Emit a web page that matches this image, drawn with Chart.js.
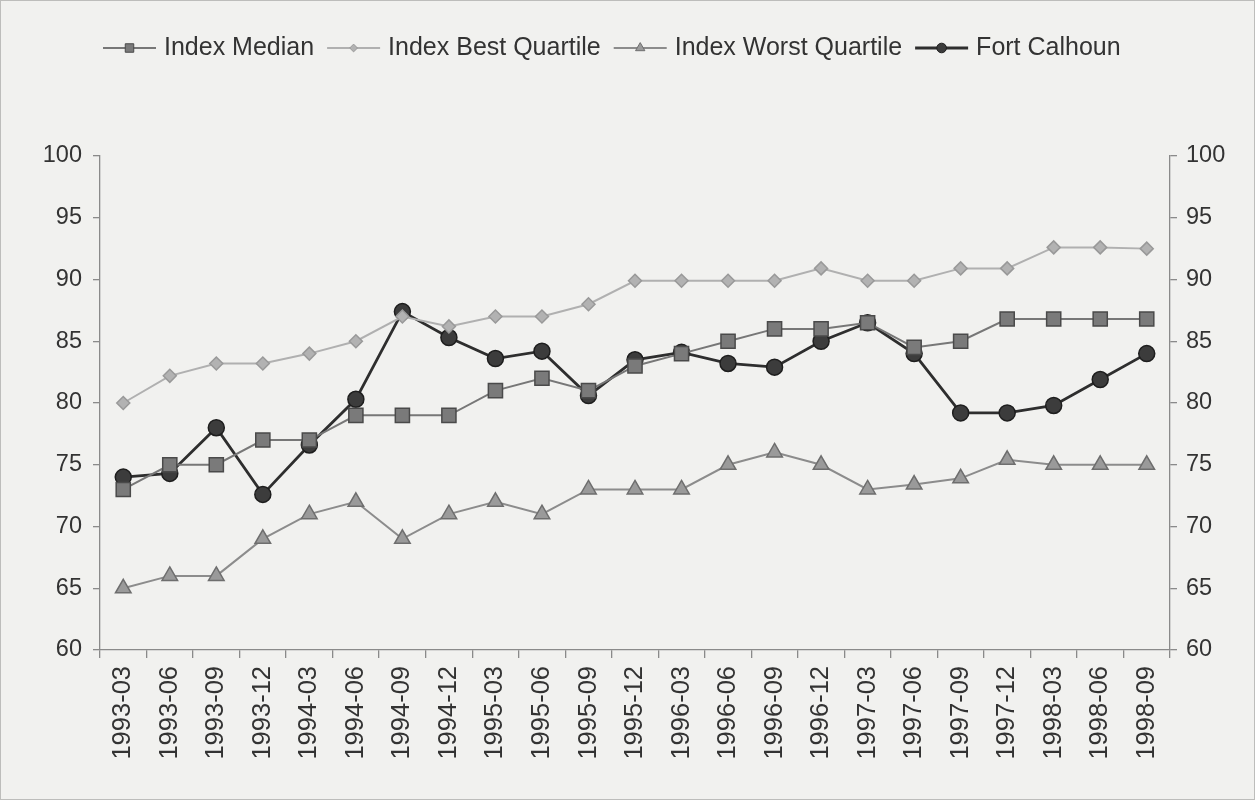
<!DOCTYPE html>
<html>
<head>
<meta charset="utf-8">
<script src="https://cdn.jsdelivr.net/npm/chart.js@4/dist/chart.umd.min.js"></script>
<style>
  html, body { margin: 0; padding: 0; background: #f1f1ef; }
  #wrap { position: relative; width: 1255px; height: 800px; box-sizing: border-box; border: 1px solid #bdbdbb; }
  canvas { display: block; }
</style>
</head>
<body>
<div id="wrap"><canvas id="c" width="1253" height="798"></canvas></div>
<script>
// Quarter labels
const quarters = [
  '1993-03','1993-06','1993-09','1993-12','1994-03','1994-06','1994-09','1994-12',
  '1995-03','1995-06','1995-09','1995-12','1996-03','1996-06','1996-09','1996-12',
  '1997-03','1997-06','1997-09','1997-12','1998-03','1998-06','1998-09'
];

// Performance index series
const indexMedian = [73, 75, 75, 77, 77, 79, 79, 79, 81, 82, 81, 83, 84, 85, 86, 86, 86.5, 84.5, 85, 86.8, 86.8, 86.8, 86.8];
const indexBestQuartile = [80, 82.2, 83.2, 83.2, 84, 85, 87, 86.2, 87, 87, 88, 89.9, 89.9, 89.9, 89.9, 90.9, 89.9, 89.9, 90.9, 90.9, 92.6, 92.6, 92.5];
const indexWorstQuartile = [65, 66, 66, 69, 71, 72, 69, 71, 72, 71, 73, 73, 73, 75, 76, 75, 73, 73.4, 73.9, 75.4, 75, 75, 75];
const fortCalhoun = [74, 74.3, 78, 72.6, 76.6, 80.3, 87.4, 85.3, 83.6, 84.2, 80.6, 83.5, 84.1, 83.2, 82.9, 85, 86.5, 84, 79.2, 79.2, 79.8, 81.9, 84];

// Value axis ticks
const yMin = 60, yMax = 100, yStep = 5;

const FONT = "'Liberation Sans', Arial, sans-serif";
const TEXT = '#333333';

// Legend drawn as "line through marker" entries
const lineMarkerLegend = {
  id: 'lineMarkerLegend',
  afterDraw(chart) {
    const ctx = chart.ctx;
    ctx.save();
    ctx.font = '25px ' + FONT;
    ctx.textBaseline = 'middle';
    const y = 47, lineLen = 53, gapText = 8, gapItem = 13;
    let x = 102;
    chart.data.datasets.forEach(ds => {
      ctx.strokeStyle = ds.borderColor;
      ctx.lineWidth = ds.borderWidth;
      ctx.beginPath();
      ctx.moveTo(x, y);
      ctx.lineTo(x + lineLen, y);
      ctx.stroke();
      drawMarker(ctx, ds.pointStyle, x + lineLen / 2, y, ds.pointRadius * 0.6,
                 ds.pointBackgroundColor, ds.pointBorderColor, 1);
      ctx.fillStyle = TEXT;
      ctx.fillText(ds.label, x + lineLen + gapText, y);
      x += lineLen + gapText + ctx.measureText(ds.label).width + gapItem;
    });
    ctx.restore();
  }
};

function drawMarker(ctx, style, x, y, r, fill, stroke, bw) {
  ctx.save();
  ctx.beginPath();
  if (style === 'rect') {
    const s = r * Math.SQRT1_2;
    ctx.rect(x - s, y - s, 2 * s, 2 * s);
  } else if (style === 'rectRot') {
    ctx.moveTo(x, y - r); ctx.lineTo(x + r, y); ctx.lineTo(x, y + r); ctx.lineTo(x - r, y); ctx.closePath();
  } else if (style === 'triangle') {
    for (let i = 0; i < 3; i++) {
      const a = -Math.PI / 2 + i * 2 * Math.PI / 3;
      const px = x + Math.cos(a) * r, py = y + Math.sin(a) * r;
      i ? ctx.lineTo(px, py) : ctx.moveTo(px, py);
    }
    ctx.closePath();
  } else {
    ctx.arc(x, y, r, 0, Math.PI * 2);
  }
  ctx.fillStyle = fill; ctx.fill();
  ctx.lineWidth = bw; ctx.strokeStyle = stroke; ctx.stroke();
  ctx.restore();
}

new Chart(document.getElementById('c'), {
  type: 'line',
  data: {
    labels: quarters,
    datasets: [
      {
        label: 'Index Median', data: indexMedian,
        borderColor: '#777777', borderWidth: 2,
        pointStyle: 'rect', pointRadius: 10,
        pointBackgroundColor: '#7a7a7a', pointBorderColor: '#4a4a4a', pointBorderWidth: 1.5
      },
      {
        label: 'Index Best Quartile', data: indexBestQuartile,
        borderColor: '#b0b0b0', borderWidth: 2,
        pointStyle: 'rectRot', pointRadius: 6.5,
        pointBackgroundColor: '#b2b2b2', pointBorderColor: '#999999', pointBorderWidth: 1.5
      },
      {
        label: 'Index Worst Quartile', data: indexWorstQuartile,
        borderColor: '#8c8c8c', borderWidth: 2,
        pointStyle: 'triangle', pointRadius: 9,
        pointBackgroundColor: '#9a9a9a', pointBorderColor: '#6e6e6e', pointBorderWidth: 1.5
      },
      {
        label: 'Fort Calhoun', data: fortCalhoun,
        borderColor: '#2e2e2e', borderWidth: 2.8,
        pointStyle: 'circle', pointRadius: 8,
        pointBackgroundColor: '#3c3c3c', pointBorderColor: '#1e1e1e', pointBorderWidth: 1.5
      }
    ]
  },
  options: {
    responsive: false,
    animation: false,
    layout: { padding: { top: 155, left: 0, right: 0, bottom: 0 } },
    plugins: { legend: { display: false }, tooltip: { enabled: false } },
    elements: { line: { tension: 0 } },
    scales: {
      x: {
        type: 'category', offset: true,
        grid: { display: true, drawOnChartArea: false, offset: true, tickLength: 8, color: '#8a8a8a', lineWidth: 1.3 },
        border: { display: true, color: '#8a8a8a', width: 1.3 },
        ticks: { color: TEXT, font: { family: FONT, size: 25.5 }, minRotation: 90, maxRotation: 90, autoSkip: false, padding: 8 },
        afterFit(s) { s.height = 149; }
      },
      y: {
        position: 'left', min: yMin, max: yMax,
        grid: { display: true, drawOnChartArea: false, tickLength: 7, color: '#8a8a8a', lineWidth: 1.3 },
        border: { display: true, color: '#8a8a8a', width: 1.3 },
        ticks: { color: TEXT, font: { family: FONT, size: 23.5 }, stepSize: yStep, padding: 11 },
        afterFit(s) { s.width = 99; }
      },
      y2: {
        position: 'right', min: yMin, max: yMax,
        grid: { display: true, drawOnChartArea: false, tickLength: 7, color: '#8a8a8a', lineWidth: 1.3 },
        border: { display: true, color: '#8a8a8a', width: 1.3 },
        ticks: { color: TEXT, font: { family: FONT, size: 23.5 }, stepSize: yStep, padding: 9 },
        afterFit(s) { s.width = 84; }
      }
    }
  },
  plugins: [lineMarkerLegend]
});
</script>
</body>
</html>
